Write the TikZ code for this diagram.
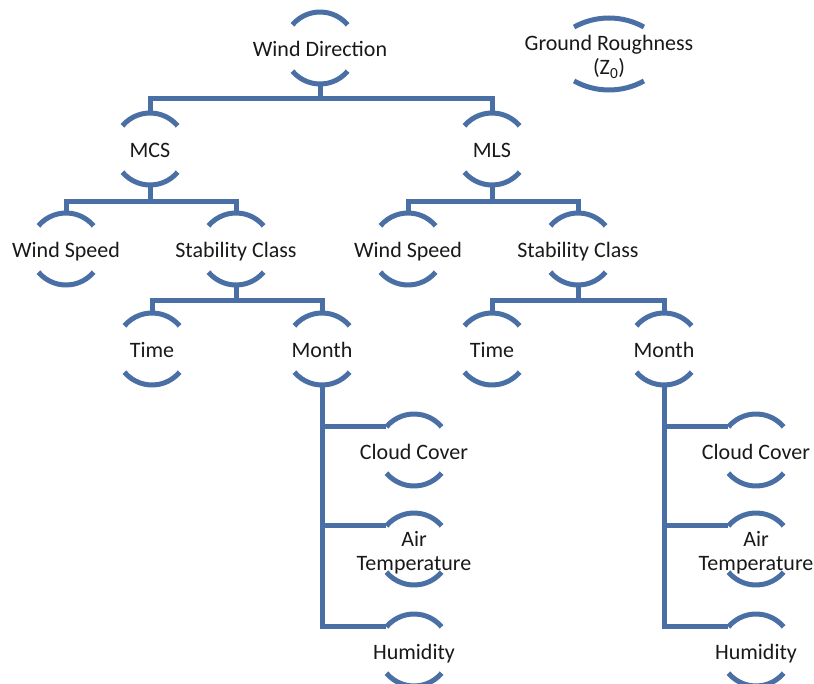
\documentclass[tikz,border=0pt]{standalone}
\usepackage{fontspec}
\setmainfont{Carlito}

\definecolor{treeblue}{HTML}{4A6FA5}

\tikzset{
  conn/.style={draw=treeblue, line width=5pt},
  lbl/.style={inner sep=0pt, align=center, text height=18pt, text depth=0pt,
    font=\fontsize{22}{24}\selectfont, text=black!90},
  lbltwo/.style={lbl, text height=42pt}
}

% arcs above and below a node: #1 node, #2 arc radius, #3 half angle
\newcommand{\nodecaps}[3]{%
  \draw[conn] ([yshift=36pt-#2pt]#1.center) ++(90+#3:#2pt)
    arc[start angle=90+#3, end angle=90-#3, radius=#2pt];
  \draw[conn] ([yshift=-36pt+#2pt]#1.center) ++(270-#3:#2pt)
    arc[start angle=270-#3, end angle=270+#3, radius=#2pt];
  \coordinate (#1-t) at ([yshift=36pt]#1.center);
  \coordinate (#1-b) at ([yshift=-36pt]#1.center);
  \coordinate (#1-l) at ([shift={(90+#3:#2pt)}, yshift=36pt-#2pt]#1.center);
}

\begin{document}
\begin{tikzpicture}[x=1pt, y=1pt]

    \useasboundingbox (0,0) rectangle (814,-684);
    \clip (0,0) rectangle (814,-684);

    % top
    \node[lbl] (wd) at (320,-48) {Wind Direction};
    \node[lbltwo] (gr) at (609,-54) {Ground Roughness\\(Z\textsubscript{0})};
    \node[lbl] (mcs) at (150,-149) {MCS};
    \node[lbl] (mls) at (492,-149) {MLS};

    % second level
    \node[lbl] (ws1) at (66,-249) {Wind Speed};
    \node[lbl] (sc1) at (236,-249) {Stability Class};
    \node[lbl] (ws2) at (408,-249) {Wind Speed};
    \node[lbl] (sc2) at (578,-249) {Stability Class};

    \node[lbl] (ti1) at (152,-349) {Time};
    \node[lbl] (mo1) at (322,-349) {Month};
    \node[lbl] (ti2) at (492,-349) {Time};
    \node[lbl] (mo2) at (664,-349) {Month};

    % month children
    \node[lbl] (cc1) at (414,-450) {Cloud Cover};
    \node[lbltwo] (at1) at (414,-549) {Air\\Temperature};
    \node[lbl] (hu1) at (414,-650) {Humidity};
    \node[lbl] (cc2) at (756,-450) {Cloud Cover};
    \node[lbltwo] (at2) at (756,-549) {Air\\Temperature};
    \node[lbl] (hu2) at (756,-650) {Humidity};

    \foreach \n in {wd,mcs,mls,ws1,sc1,ws2,sc2,ti1,mo1,ti2,mo2,cc1,at1,hu1,cc2,at2,hu2}
    \nodecaps{\n}{36}{50};
    \nodecaps{gr}{72}{29};

    % tree lines
    \coordinate (j1) at (320,-99);
    \coordinate (j2) at (150,-202);
    \coordinate (j3) at (492,-202);
    \coordinate (j4) at (236,-301);
    \coordinate (j5) at (578,-301);

    \draw[conn] (wd-b) -- (j1);
    \draw[conn] (mcs-t) |- (j1) -| (mls-t);
    \draw[conn] (mcs-b) -- (j2);
    \draw[conn] (ws1-t) |- (j2) -| (sc1-t);
    \draw[conn] (mls-b) -- (j3);
    \draw[conn] (ws2-t) |- (j3) -| (sc2-t);
    \draw[conn] (sc1-b) -- (j4);
    \draw[conn] (ti1-t) |- (j4) -| (mo1-t);
    \draw[conn] (sc2-b) -- (j5);
    \draw[conn] (ti2-t) |- (j5) -| (mo2-t);

    \foreach \m/\c/\a/\h in {mo1/cc1/at1/hu1, mo2/cc2/at2/hu2}{
    \draw[conn] (\m-b) |- (\h-l);
    \draw[conn] (\m-b |- \c-l) -- (\c-l);
    \draw[conn] (\m-b |- \a-l) -- (\a-l);
    }

\end{tikzpicture}
\end{document}
